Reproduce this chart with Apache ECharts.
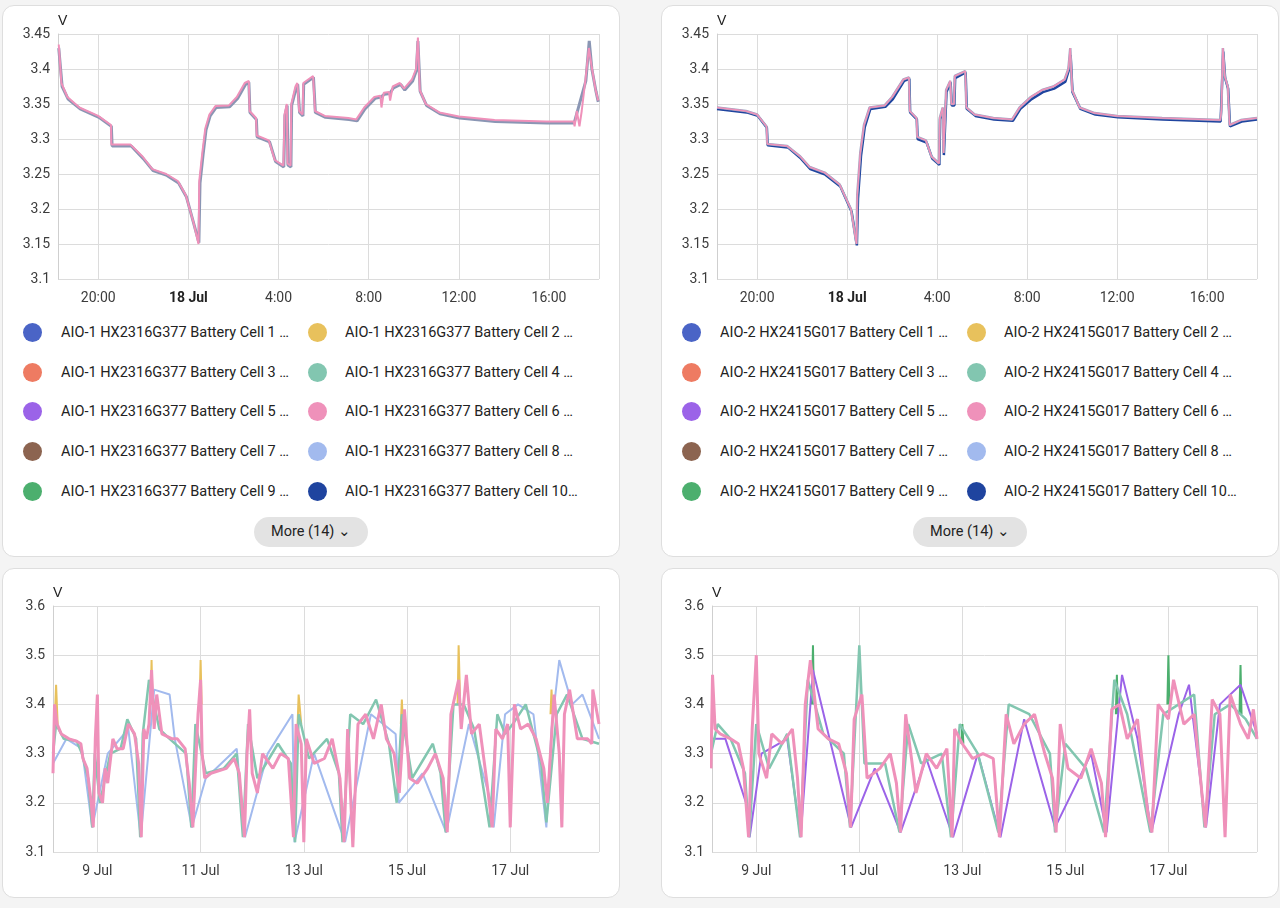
<!DOCTYPE html>
<html><head><meta charset="utf-8">
<script src="https://cdn.jsdelivr.net/npm/echarts@6/dist/echarts.min.js"></script>
<style>
body{margin:0;background:#f4f4f4;font-family:Roboto,"Noto Sans",sans-serif;width:1280px;height:908px;position:relative;overflow:hidden}
.card{position:absolute;background:#fff;border:1px solid #dedede;border-radius:12px}
.chart{position:absolute}
.leg{position:absolute;font-size:14.5px;color:#222;white-space:nowrap}
.leg .dot{position:absolute;width:19px;height:19px;border-radius:50%;top:-10px}
.leg .txt{position:absolute;top:-9px;width:236px;overflow:hidden;text-overflow:ellipsis}
.more{position:absolute;width:114px;height:30px;border-radius:15px;background:#e3e3e3;font-size:14.5px;color:#222;line-height:30px;text-align:center}
</style></head>
<body>
<div class="card" style="left:2px;top:5px;width:616px;height:550px"></div>
<div class="card" style="left:661px;top:5px;width:616px;height:550px"></div>
<div class="card" style="left:2px;top:568px;width:616px;height:328px"></div>
<div class="card" style="left:661px;top:568px;width:616px;height:328px"></div>
<div id="c1" class="chart" style="left:2px;top:5px;width:618px;height:300px"></div>
<div id="c2" class="chart" style="left:661px;top:5px;width:618px;height:300px"></div>
<div id="c3" class="chart" style="left:2px;top:568px;width:618px;height:329px"></div>
<div id="c4" class="chart" style="left:661px;top:568px;width:618px;height:329px"></div>
<div id="legends"></div>
<script>
// Legend names / colours
var cellNames = ['Cell 1','Cell 2','Cell 3','Cell 4','Cell 5','Cell 6','Cell 7','Cell 8','Cell 9','Cell 10'];
var cellColors = ['#4a64c6','#e8c15c','#ee7b62','#82c6b0','#9b63e8','#ef91ba','#8c6450','#a2baee','#4caf6e','#1f449f'];
var prefix1 = 'AIO-1 HX2316G377 Battery ';
var prefix2 = 'AIO-2 HX2415G017 Battery ';

// Top-left (17 Jul 18:15 -> 18 Jul 18:11), [day, hh:mm, V]
var tlPink = [[17,'18:15',3.435],[17,'18:22',3.38],[17,'18:38',3.36],[17,'19:10',3.345],[17,'20:00',3.333],[17,'20:34',3.32],[17,'20:35',3.292],[17,'21:26',3.292],[17,'21:58',3.275],[17,'22:24',3.257],[17,'23:01',3.25],[17,'23:32',3.24],[17,'23:53',3.22],[18,'00:14',3.18],[18,'00:27',3.15],[18,'00:29',3.24],[18,'00:37',3.28],[18,'00:45',3.315],[18,'00:56',3.335],[18,'01:12',3.347],[18,'01:48',3.348],[18,'02:09',3.36],[18,'02:30',3.38],[18,'02:41',3.383],[18,'02:43',3.34],[18,'03:00',3.33],[18,'03:02',3.305],[18,'03:34',3.298],[18,'03:50',3.27],[18,'04:13',3.262],[18,'04:16',3.335],[18,'04:22',3.35],[18,'04:24',3.265],[18,'04:32',3.262],[18,'04:34',3.35],[18,'04:45',3.375],[18,'04:50',3.38],[18,'04:55',3.34],[18,'05:04',3.335],[18,'05:06',3.38],[18,'05:32',3.39],[18,'05:37',3.34],[18,'06:03',3.333],[18,'07:06',3.33],[18,'07:27',3.328],[18,'07:48',3.345],[18,'08:15',3.36],[18,'08:31',3.362],[18,'08:34',3.345],[18,'08:40',3.366],[18,'08:54',3.367],[18,'08:57',3.355],[18,'09:04',3.375],[18,'09:23',3.38],[18,'09:34',3.372],[18,'09:55',3.385],[18,'10:06',3.4],[18,'10:11',3.445],[18,'10:16',3.37],[18,'10:32',3.35],[18,'11:08',3.338],[18,'12:00',3.332],[18,'13:35',3.327],[18,'15:52',3.325],[18,'17:06',3.325],[18,'17:08',3.318],[18,'17:14',3.34],[18,'17:21',3.318],[18,'17:27',3.34],[18,'17:37',3.385],[18,'17:46',3.43],[18,'17:53',3.405],[18,'18:04',3.37],[18,'18:11',3.355]];
var tlGrey = [[17,'18:15',3.43],[17,'18:24',3.375],[17,'18:40',3.357],[17,'19:12',3.343],[17,'20:02',3.331],[17,'20:35',3.318],[17,'20:37',3.29],[17,'21:28',3.29],[17,'22:00',3.272],[17,'22:26',3.255],[17,'23:03',3.248],[17,'23:34',3.237],[17,'23:55',3.217],[18,'00:16',3.176],[18,'00:28',3.152],[18,'00:31',3.237],[18,'00:39',3.277],[18,'00:47',3.313],[18,'00:58',3.333],[18,'01:14',3.345],[18,'01:50',3.346],[18,'02:11',3.358],[18,'02:32',3.378],[18,'02:41',3.381],[18,'02:44',3.338],[18,'03:01',3.328],[18,'03:03',3.303],[18,'03:36',3.296],[18,'03:52',3.268],[18,'04:14',3.26],[18,'04:17',3.333],[18,'04:23',3.348],[18,'04:25',3.263],[18,'04:33',3.26],[18,'04:35',3.348],[18,'04:47',3.373],[18,'04:51',3.378],[18,'04:56',3.338],[18,'05:05',3.333],[18,'05:07',3.378],[18,'05:33',3.388],[18,'05:38',3.338],[18,'06:05',3.331],[18,'07:08',3.328],[18,'07:29',3.326],[18,'07:50',3.343],[18,'08:17',3.358],[18,'08:33',3.36],[18,'08:42',3.364],[18,'08:56',3.365],[18,'09:06',3.373],[18,'09:25',3.378],[18,'09:36',3.37],[18,'09:57',3.383],[18,'10:07',3.398],[18,'10:11',3.44],[18,'10:17',3.368],[18,'10:34',3.348],[18,'11:10',3.336],[18,'12:02',3.33],[18,'13:37',3.325],[18,'15:54',3.323],[18,'17:07',3.323],[18,'17:38',3.383],[18,'17:47',3.44],[18,'17:54',3.4],[18,'18:05',3.368],[18,'18:11',3.353]];

// Top-right (17 Jul 18:13 -> 18 Jul 18:13)
var trPink = [[17,'18:13',3.345],[17,'19:30',3.34],[17,'20:00',3.335],[17,'20:25',3.318],[17,'20:27',3.293],[17,'21:20',3.29],[17,'21:55',3.275],[17,'22:20',3.26],[17,'23:00',3.252],[17,'23:40',3.235],[18,'00:10',3.2],[18,'00:25',3.15],[18,'00:27',3.22],[18,'00:35',3.28],[18,'00:45',3.32],[18,'01:00',3.345],[18,'01:40',3.348],[18,'02:00',3.36],[18,'02:30',3.385],[18,'02:45',3.388],[18,'02:47',3.34],[18,'03:05',3.33],[18,'03:07',3.303],[18,'03:30',3.298],[18,'03:45',3.275],[18,'04:05',3.265],[18,'04:07',3.33],[18,'04:15',3.345],[18,'04:17',3.28],[18,'04:22',3.278],[18,'04:24',3.37],[18,'04:35',3.383],[18,'04:38',3.35],[18,'04:45',3.35],[18,'04:47',3.39],[18,'05:15',3.397],[18,'05:18',3.345],[18,'05:40',3.335],[18,'06:30',3.33],[18,'07:20',3.328],[18,'07:40',3.345],[18,'08:10',3.36],[18,'08:40',3.37],[18,'09:10',3.375],[18,'09:40',3.385],[18,'09:50',3.4],[18,'09:55',3.43],[18,'10:00',3.37],[18,'10:20',3.345],[18,'11:00',3.337],[18,'12:00',3.333],[18,'14:00',3.33],[18,'16:35',3.327],[18,'16:38',3.34],[18,'16:42',3.43],[18,'16:47',3.39],[18,'16:55',3.375],[18,'17:00',3.32],[18,'17:30',3.327],[18,'18:13',3.33]];
var trNavy = [[17,'18:13',3.343],[17,'19:32',3.338],[17,'20:02',3.333],[17,'20:26',3.316],[17,'20:28',3.291],[17,'21:22',3.288],[17,'21:57',3.272],[17,'22:22',3.257],[17,'23:02',3.249],[17,'23:42',3.232],[18,'00:12',3.196],[18,'00:26',3.148],[18,'00:29',3.215],[18,'00:37',3.276],[18,'00:47',3.317],[18,'01:02',3.343],[18,'01:42',3.346],[18,'02:02',3.357],[18,'02:32',3.383],[18,'02:46',3.386],[18,'02:48',3.338],[18,'03:06',3.328],[18,'03:08',3.3],[18,'03:32',3.295],[18,'03:47',3.272],[18,'04:06',3.263],[18,'04:08',3.328],[18,'04:16',3.342],[18,'04:18',3.277],[18,'04:23',3.275],[18,'04:25',3.367],[18,'04:36',3.381],[18,'04:39',3.348],[18,'04:46',3.348],[18,'04:48',3.387],[18,'05:16',3.395],[18,'05:19',3.343],[18,'05:42',3.333],[18,'06:32',3.328],[18,'07:22',3.326],[18,'07:42',3.343],[18,'08:12',3.357],[18,'08:42',3.367],[18,'09:12',3.372],[18,'09:42',3.382],[18,'09:51',3.398],[18,'09:56',3.42],[18,'10:01',3.367],[18,'10:22',3.343],[18,'11:02',3.335],[18,'12:02',3.331],[18,'14:02',3.328],[18,'16:36',3.325],[18,'16:43',3.425],[18,'16:48',3.387],[18,'16:56',3.372],[18,'17:01',3.318],[18,'17:32',3.325],[18,'18:13',3.328]];

// Bottom charts, [fractional July day, V]; null = gap
var blPink = [[8.14,3.26],[8.17,3.40],[8.22,3.36],[8.3,3.34],[8.45,3.33],[8.6,3.325],[8.68,3.32],[8.72,3.29],[8.8,3.27],[8.88,3.2],[8.92,3.15],[8.96,3.33],[9.0,3.42],[9.03,3.22],[9.1,3.2],[9.15,3.27],[9.2,3.24],[9.3,3.33],[9.38,3.31],[9.5,3.31],[9.6,3.36],[9.72,3.34],[9.8,3.28],[9.85,3.13],[9.9,3.35],[9.95,3.33],[10.0,3.36],[10.05,3.47],[10.1,3.35],[10.15,3.42],[10.25,3.34],[10.45,3.33],[10.55,3.33],[10.7,3.31],[10.78,3.24],[10.85,3.15],[10.95,3.38],[11.0,3.45],[11.03,3.3],[11.08,3.25],[11.2,3.26],[11.5,3.27],[11.65,3.29],[11.75,3.26],[11.85,3.13],[11.9,3.3],[11.95,3.39],[12.0,3.26],[12.1,3.22],[12.2,3.3],[12.4,3.27],[12.55,3.3],[12.7,3.29],[12.8,3.13],[12.85,3.36],[12.95,3.32],[13.0,3.12],[13.05,3.33],[13.2,3.28],[13.4,3.29],[13.55,3.33],[13.7,3.25],[13.78,3.12],[13.85,3.35],[13.95,3.11],[14.05,3.36],[14.2,3.38],[14.35,3.33],[14.5,3.4],[14.6,3.33],[14.75,3.3],[14.85,3.22],[14.95,3.39],[15.05,3.25],[15.2,3.24],[15.4,3.27],[15.55,3.3],[15.7,3.25],[15.78,3.14],[15.85,3.38],[16.0,3.45],[16.05,3.35],[16.15,3.46],[16.25,3.34],[16.4,3.36],[16.55,3.24],[16.65,3.15],[16.72,3.35],[16.85,3.33],[16.95,3.36],[17.0,3.15],[17.08,3.4],[17.2,3.35],[17.35,3.36],[17.5,3.33],[17.65,3.27],[17.72,3.2],[17.85,3.42],[17.95,3.3],[18.0,3.15],[18.05,3.38],[18.15,3.43],[18.3,3.33],[18.5,3.33],[18.58,3.32],[18.6,3.43],[18.72,3.36]];
var blTeal = [[8.14,3.3],[8.2,3.36],[8.35,3.33],[8.6,3.325],[8.7,3.3],[8.82,3.25],[8.9,3.15],[8.95,3.3],[9.05,3.2],[9.25,3.3],[9.45,3.31],[9.58,3.37],[9.75,3.33],[9.83,3.13],[9.88,3.34],[10.0,3.45],[10.2,3.35],[10.4,3.33],[10.72,3.3],[10.82,3.15],[10.9,3.36],[11.1,3.26],[11.45,3.27],[11.7,3.3],[11.82,3.13],[11.92,3.36],[12.1,3.25],[12.5,3.32],[12.75,3.28],[12.83,3.12],[12.9,3.38],[13.1,3.29],[13.45,3.33],[13.68,3.26],[13.75,3.12],[13.9,3.38],[14.15,3.36],[14.4,3.41],[14.65,3.32],[14.8,3.2],[14.9,3.38],[15.1,3.25],[15.5,3.32],[15.65,3.26],[15.75,3.14],[15.9,3.4],[16.1,3.4],[16.3,3.35],[16.6,3.15],[16.75,3.38],[16.9,3.34],[17.05,3.36],[17.3,3.4],[17.6,3.28],[17.7,3.16],[17.9,3.38],[18.1,3.42],[18.4,3.33],[18.72,3.32]];
var blBlue = [[8.14,3.28],[8.4,3.33],[8.7,3.31],[8.9,3.15],[9.2,3.3],[9.6,3.35],[9.84,3.13],[10.1,3.43],[10.4,3.42],[10.5,3.33],[10.83,3.15],[11.1,3.25],[11.7,3.31],[11.86,3.13],[12.3,3.3],[12.78,3.38],[12.82,3.12],[13.2,3.3],[13.8,3.12],[14.3,3.38],[14.78,3.34],[14.84,3.2],[15.3,3.26],[15.76,3.14],[16.2,3.36],[16.63,3.2],[16.68,3.15],[16.9,3.38],[17.15,3.4],[17.45,3.38],[17.7,3.15],[17.8,3.35],[17.95,3.49],[18.2,3.4],[18.4,3.42],[18.72,3.33]];
var blYellow = [[8.17,3.36],[8.2,3.44],[8.23,3.36],[8.3,null],[10.03,3.4],[10.05,3.49],[10.07,3.4],[10.2,null],[10.98,3.4],[11.0,3.49],[11.02,3.4],[11.2,null],[12.88,3.36],[12.9,3.42],[12.95,3.36],[13.1,null],[14.88,3.36],[14.9,3.41],[14.92,3.36],[15.0,null],[15.98,3.4],[16.0,3.52],[16.03,3.4],[16.2,null],[17.78,3.38],[17.8,3.43],[17.82,3.38]];

var brPink = [[8.12,3.27],[8.15,3.46],[8.2,3.35],[8.3,3.34],[8.5,3.33],[8.65,3.32],[8.75,3.27],[8.85,3.13],[8.92,3.35],[9.0,3.5],[9.05,3.3],[9.2,3.25],[9.3,3.34],[9.5,3.32],[9.7,3.35],[9.8,3.25],[9.87,3.13],[9.95,3.4],[10.05,3.49],[10.2,3.35],[10.4,3.33],[10.6,3.32],[10.75,3.26],[10.83,3.15],[10.9,3.37],[11.05,3.42],[11.15,3.25],[11.4,3.27],[11.6,3.3],[11.72,3.24],[11.8,3.14],[11.9,3.38],[12.0,3.3],[12.1,3.22],[12.3,3.3],[12.5,3.27],[12.7,3.31],[12.8,3.13],[12.85,3.35],[13.0,3.32],[13.2,3.29],[13.4,3.3],[13.6,3.29],[13.72,3.13],[13.85,3.38],[14.0,3.32],[14.2,3.36],[14.4,3.38],[14.6,3.3],[14.75,3.25],[14.82,3.14],[14.9,3.36],[15.05,3.27],[15.3,3.25],[15.5,3.31],[15.7,3.24],[15.78,3.13],[15.9,3.39],[16.05,3.4],[16.2,3.33],[16.4,3.37],[16.6,3.18],[16.68,3.14],[16.8,3.4],[17.0,3.37],[17.1,3.45],[17.3,3.36],[17.5,3.38],[17.65,3.22],[17.72,3.15],[17.85,3.41],[18.0,3.38],[18.1,3.13],[18.2,3.42],[18.4,3.36],[18.55,3.33],[18.65,3.39],[18.72,3.33]];
var brTeal = [[8.12,3.3],[8.25,3.36],[8.5,3.33],[8.78,3.26],[8.86,3.13],[9.0,3.36],[9.25,3.27],[9.6,3.34],[9.85,3.13],[10.0,3.45],[10.3,3.34],[10.7,3.3],[10.82,3.15],[11.0,3.52],[11.1,3.28],[11.5,3.28],[11.78,3.14],[11.95,3.36],[12.2,3.28],[12.6,3.3],[12.78,3.13],[12.95,3.36],[13.3,3.3],[13.7,3.14],[13.9,3.4],[14.3,3.38],[14.7,3.3],[14.8,3.14],[15.0,3.32],[15.4,3.27],[15.75,3.14],[15.95,3.45],[16.2,3.38],[16.65,3.14],[16.9,3.38],[17.2,3.4],[17.5,3.42],[17.7,3.15],[17.9,3.38],[18.2,3.4],[18.5,3.37],[18.72,3.33]];
var brNavy = [[8.12,3.33],[8.4,3.33],[8.8,3.2],[8.87,3.13],[9.1,3.3],[9.6,3.33],[9.86,3.13],[10.1,3.47],[10.4,3.34],[10.84,3.15],[11.3,3.27],[11.8,3.14],[12.3,3.29],[12.82,3.13],[13.3,3.3],[13.74,3.13],[14.2,3.37],[14.8,3.15],[15.5,3.3],[15.8,3.14],[16.1,3.46],[16.4,3.33],[16.67,3.14],[17.2,3.38],[17.4,3.44],[17.73,3.15],[18.0,3.4],[18.4,3.44],[18.72,3.34]];
var brGreen = [[10.08,3.4],[10.1,3.52],[10.12,3.4],[10.3,null],[12.98,3.32],[13.0,3.36],[13.02,3.32],[13.2,null],[15.98,3.38],[16.0,3.46],[16.02,3.38],[16.2,null],[16.98,3.4],[17.0,3.5],[17.02,3.4],[17.2,null],[18.38,3.38],[18.4,3.48],[18.42,3.38]];

function hm(p) { var t = p[1].split(':'); return [new Date(2024, 6, p[0], +t[0], +t[1]).getTime(), p[2]]; }
function fd(p) { return [new Date(2024, 6, 1).getTime() + (p[0] - 1) * 864e5, p[1]]; }

var axisText = {color: '#3c3c3c', fontSize: 14, fontFamily: 'Roboto'};

function makeOpt(cfg) {
  return {
    animation: false,
    grid: cfg.grid,
    xAxis: {
      type: 'time', min: cfg.min, max: cfg.max, splitNumber: cfg.split,
      axisLine: {show: false}, axisTick: {show: false},
      splitLine: {show: true, lineStyle: {color: '#dcdcdc'}},
      axisLabel: Object.assign({}, axisText, {
        margin: 12, hideOverlap: true,
        formatter: cfg.fmt,
        rich: {b: {fontWeight: 'bold', fontSize: 14, color: '#222'}}
      })
    },
    yAxis: {
      type: 'value', min: cfg.ymin, max: cfg.ymax, interval: cfg.yint,
      name: 'V', nameGap: 6, nameTextStyle: {color: '#222', fontSize: 14, align: 'left'},
      axisLine: {show: true, lineStyle: {color: '#cfcfcf'}}, axisTick: {show: false},
      splitLine: {lineStyle: {color: '#dcdcdc'}},
      axisLabel: Object.assign({}, axisText, {margin: 8, formatter: function (v) { return +v.toFixed(2) + ''; }})
    },
    series: cfg.series.map(function (s) {
      return {type: 'line', name: s.name, data: s.data, showSymbol: false, smooth: false, connectNulls: false,
        lineStyle: {width: s.w || 2, color: s.color}, itemStyle: {color: s.color}};
    })
  };
}

function hourFmt(v) {
  var d = new Date(v);
  if (d.getHours() === 0 && d.getMinutes() === 0) return '{b|' + d.getDate() + ' Jul}';
  return d.getHours() + ':' + ('0' + d.getMinutes()).slice(-2);
}
function dayFmt(v) {
  var d = new Date(v);
  return d.getDate() + ' Jul';
}

var topMin = new Date(2024, 6, 17, 18, 13).getTime();
var topMax = new Date(2024, 6, 18, 18, 13).getTime();
var botMin = fd([8.14, 0])[0], botMax = fd([18.72, 0])[0];

echarts.init(document.getElementById('c1')).setOption(makeOpt({
  grid: {left: 56, right: 21, top: 29, bottom: 26},
  min: topMin, max: topMax, split: 6, fmt: hourFmt, ymin: 3.1, ymax: 3.45, yint: 0.05,
  series: [
    {name: prefix1 + cellNames[9], data: tlGrey.map(hm), color: '#8a96b4', w: 3},
    {name: prefix1 + cellNames[5], data: tlPink.map(hm), color: cellColors[5], w: 2}
  ]
}));
echarts.init(document.getElementById('c2')).setOption(makeOpt({
  grid: {left: 56, right: 22, top: 29, bottom: 26},
  min: topMin, max: topMax, split: 6, fmt: hourFmt, ymin: 3.1, ymax: 3.45, yint: 0.05,
  series: [
    {name: prefix2 + cellNames[9], data: trNavy.map(hm), color: cellColors[9], w: 2.5},
    {name: prefix2 + cellNames[3], data: trPink.map(hm), color: '#9aa6c0', w: 2.5},
    {name: prefix2 + cellNames[5], data: trPink.map(hm), color: cellColors[5], w: 1.5}
  ]
}));
echarts.init(document.getElementById('c3')).setOption(makeOpt({
  grid: {left: 51, right: 21, top: 38, bottom: 45},
  min: botMin, max: botMax, split: 5, fmt: dayFmt, ymin: 3.1, ymax: 3.6, yint: 0.1,
  series: [
    {name: prefix1 + cellNames[1], data: blYellow.map(fd), color: cellColors[1]},
    {name: prefix1 + cellNames[0], data: blBlue.map(fd), color: cellColors[7]},
    {name: prefix1 + cellNames[3], data: blTeal.map(fd), color: cellColors[3], w: 2.5},
    {name: prefix1 + cellNames[5], data: blPink.map(fd), color: cellColors[5], w: 3}
  ]
}));
echarts.init(document.getElementById('c4')).setOption(makeOpt({
  grid: {left: 51, right: 22, top: 38, bottom: 45},
  min: botMin, max: botMax, split: 5, fmt: dayFmt, ymin: 3.1, ymax: 3.6, yint: 0.1,
  series: [
    {name: prefix2 + cellNames[8], data: brGreen.map(fd), color: cellColors[8]},
    {name: prefix2 + cellNames[9], data: brNavy.map(fd), color: cellColors[4]},
    {name: prefix2 + cellNames[3], data: brTeal.map(fd), color: cellColors[3], w: 2.5},
    {name: prefix2 + cellNames[5], data: brPink.map(fd), color: cellColors[5], w: 3}
  ]
}));

// HTML legends
var html = '';
[[2, prefix1], [661, prefix2]].forEach(function (c) {
  for (var i = 0; i < 10; i++) {
    var col = i % 2, row = Math.floor(i / 2);
    var x = c[0] + (col ? 306 : 21), y = 333 + row * 39.7;
    html += '<div class="leg" style="left:' + x + 'px;top:' + y + 'px">' +
      '<div class="dot" style="left:0;background:' + cellColors[i] + '"></div>' +
      '<div class="txt" style="left:' + (col ? 37 : 38) + 'px">' + c[1] + cellNames[i] + ' Voltage</div></div>';
  }
  html += '<div class="more" style="left:' + (c[0] + 252) + 'px;top:517px">More (14) &#8964;</div>';
});
document.getElementById('legends').innerHTML = html;
</script>
</body></html>
